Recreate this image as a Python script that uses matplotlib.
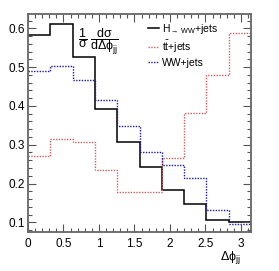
import numpy as np
import matplotlib
matplotlib.use("Agg")
import matplotlib.pyplot as plt
from matplotlib.ticker import MultipleLocator

plt.rcParams['font.family'] = ['Liberation Sans', 'DejaVu Sans']
plt.rcParams['mathtext.fontset'] = 'custom'
plt.rcParams['mathtext.rm'] = 'Liberation Sans'
plt.rcParams['mathtext.it'] = 'Liberation Sans'
plt.rcParams['mathtext.sf'] = 'Liberation Sans'

n_bins = 10
x_max = np.pi
labels = [r'H$_{\rightarrow\,WW}$+jets', r't$\bar{\mathrm{t}}$+jets', 'WW+jets']
h_vals = [0.583, 0.610, 0.527, 0.392, 0.308, 0.242, 0.183, 0.147, 0.107, 0.100]
tt_vals = [0.271, 0.316, 0.306, 0.235, 0.178, 0.177, 0.265, 0.382, 0.480, 0.587]
ww_vals = [0.490, 0.503, 0.467, 0.416, 0.349, 0.282, 0.248, 0.213, 0.133, 0.096]

edges = np.linspace(0, x_max, n_bins + 1)

fig = plt.figure(figsize=(2.79, 2.71), dpi=100)
ax = fig.add_axes([0.1004, 0.1439, 0.7992, 0.8044])

ax.stairs(h_vals, edges, color='black', lw=1.1, label=labels[0], baseline=None)
ax.stairs(tt_vals, edges, color='#d06060', lw=1.0, ls=(0, (1, 1)), label=labels[1], baseline=None)
ax.stairs(ww_vals, edges, color='#1a1aa8', lw=1.0, ls=(0, (1, 1)), label=labels[2], baseline=None)

ax.set_xlim(0, x_max)
ax.set_ylim(0.075, 0.637)
ax.xaxis.set_major_locator(MultipleLocator(0.5))
ax.xaxis.set_minor_locator(MultipleLocator(0.1))
ax.yaxis.set_major_locator(MultipleLocator(0.1))
ax.yaxis.set_minor_locator(MultipleLocator(0.02))
ax.xaxis.set_major_formatter(matplotlib.ticker.FuncFormatter(lambda v, p: ('%g' % v)))
ax.yaxis.set_major_formatter(matplotlib.ticker.FuncFormatter(lambda v, p: ('%g' % round(v, 2))))
ax.tick_params(which='both', direction='in', top=True, right=True, color='#555555', labelsize=8.5)
ax.tick_params(which='major', length=6, width=0.8)
ax.tick_params(which='minor', length=3, width=0.8)
ax.tick_params(axis='x', pad=4)
ax.tick_params(axis='y', pad=2)
for s in ax.spines.values():
    s.set_color('#666666')
    s.set_linewidth(1.3)

ax.text(0.315, 0.875, r'$\dfrac{1}{\sigma}\;\dfrac{d\sigma}{d\Delta\phi_{jj}}$', transform=ax.transAxes,
        fontsize=9, ha='center', va='center')
fig.text(0.825, 0.05, r'$\Delta\phi_{jj}$', fontsize=9, ha='center', va='center')

ax.legend(loc='upper left', bbox_to_anchor=(0.53, 0.975), frameon=False, fontsize=7.5,
          handlelength=1.0, handletextpad=0.3, labelspacing=0.3, borderaxespad=0.0,
          borderpad=0.2)

fig.savefig('out.png', dpi=100)
